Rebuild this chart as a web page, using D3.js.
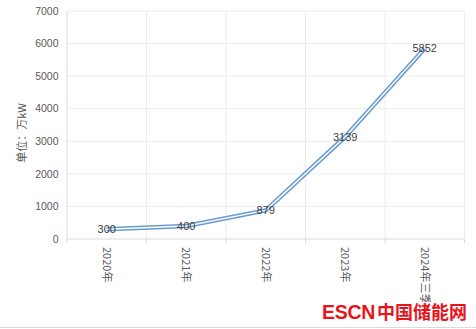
<!DOCTYPE html>
<html><head><meta charset="utf-8">
<script src="https://cdn.jsdelivr.net/npm/d3@7"></script>
<style>body{margin:0;background:#fff}svg{display:block}</style>
</head><body>
<script>
const categories = ["2020年","2021年","2022年","2023年","2024年三季度"];
const values = [300, 400, 879, 3139, 5852];
const yTicks = [0,1000,2000,3000,4000,5000,6000,7000];
const yTitle = "单位：万kW";
const watermark = ["ESCN","中国储能网"];

const W=476,H=329;
const m={l:67,r:11.5,t:11,b:90};
const svg=d3.select("body").append("svg").attr("width",W).attr("height",H);
const x=d3.scaleBand().domain(categories).range([m.l,W-m.r]);
const y=d3.scaleLinear().domain([0,7000]).range([H-m.b,m.t]);
const font="'Liberation Sans','Noto Sans CJK SC',sans-serif";

// gridlines
svg.append("g").selectAll("line").data(yTicks.slice(1)).join("line")
 .attr("x1",m.l).attr("x2",W-m.r).attr("y1",d=>y(d)).attr("y2",d=>y(d))
 .attr("stroke","#ececec").attr("stroke-width",1);
const bounds=categories.map(c=>x(c)).concat([x.range()[1]]);
svg.append("g").selectAll("line").data(bounds.slice(1)).join("line")
 .attr("x1",d=>d).attr("x2",d=>d).attr("y1",m.t).attr("y2",y(0))
 .attr("stroke","#ececec");
// left axis line
svg.append("line").attr("x1",m.l).attr("x2",m.l).attr("y1",m.t).attr("y2",y(0)).attr("stroke","#d9d9d9");
// bottom axis
svg.append("line").attr("x1",m.l).attr("x2",W-m.r).attr("y1",y(0)).attr("y2",y(0)).attr("stroke","#d9d9d9").attr("stroke-width",1.2);
svg.append("g").selectAll("line").data(bounds).join("line")
 .attr("x1",d=>d).attr("x2",d=>d).attr("y1",y(0)).attr("y2",y(0)+4).attr("stroke","#d9d9d9");

// y tick labels
svg.append("g").selectAll("text").data(yTicks).join("text")
 .attr("x",58.5).attr("y",d=>y(d)).attr("dy","0.35em").attr("text-anchor","end")
 .attr("font-family",font).attr("font-size",10.5).attr("fill","#595959").text(d=>d);

// y title
svg.append("text").attr("transform",`translate(26,133) rotate(-90)`)
 .attr("text-anchor","middle").attr("font-family","'Noto Sans CJK SC',sans-serif")
 .attr("font-size",11).attr("fill","#595959").text(yTitle);

// x labels
svg.append("g").selectAll("text").data(categories).join("text")
 .attr("transform",d=>`translate(${x(d)+x.bandwidth()/2},247) rotate(90)`)
 .attr("dy","0.35em").attr("text-anchor","start")
 .attr("font-family","'Noto Sans CJK SC',sans-serif").attr("font-size",11).attr("fill","#595959").text(d=>d);

// line
const line=d3.line().x((d,i)=>x(categories[i])+x.bandwidth()/2).y(d=>y(d));
svg.append("path").datum(values).attr("d",line).attr("fill","none")
 .attr("stroke","#6a9bd0").attr("stroke-width",4.5).attr("stroke-linejoin","round");
svg.append("path").datum(values).attr("d",line).attr("fill","none")
 .attr("stroke","#ffffff").attr("stroke-width",1.4).attr("stroke-linejoin","round");

// data labels
svg.append("g").selectAll("text").data(values).join("text")
 .attr("x",(d,i)=>x(categories[i])+x.bandwidth()/2).attr("y",d=>y(d)).attr("dy","0.35em")
 .attr("text-anchor","middle").attr("font-family",font).attr("font-size",11).attr("fill","#404040").text(d=>d);

// bottom border line
svg.append("line").attr("x1",0).attr("x2",W).attr("y1",327.5).attr("y2",327.5).attr("stroke","#dcdcdc");

// watermark
svg.append("rect").attr("x",320).attr("y",302).attr("width",150).attr("height",20).attr("fill","#fff");
const wm=svg.append("text").attr("x",322).attr("y",318.5).attr("fill","#e8141b").attr("font-weight","bold");
wm.append("tspan").attr("font-family","'Liberation Sans',sans-serif").attr("font-size",19.5).attr("letter-spacing",-0.3).text(watermark[0]);
wm.append("tspan").attr("dx",2).attr("font-family","'Noto Sans CJK SC',sans-serif").attr("font-size",18).text(watermark[1]);
</script>
</body></html>
